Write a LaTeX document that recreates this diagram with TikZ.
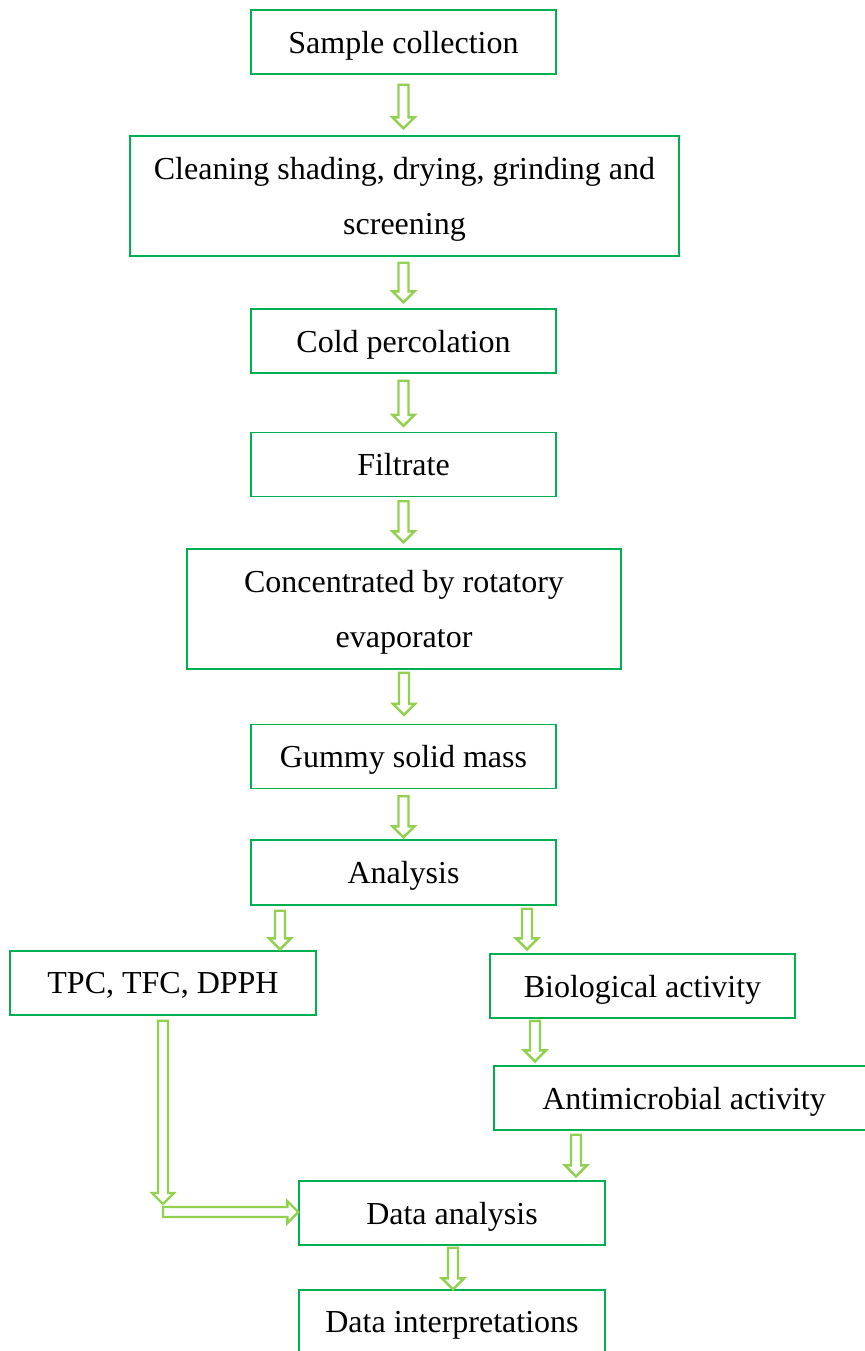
\documentclass[tikz,border=0pt]{standalone}
\usepackage{fontspec}
\setmainfont{Liberation Serif}
\usetikzlibrary{calc}
\definecolor{boxgreen}{HTML}{00B050}
\definecolor{arrowgreen}{HTML}{92D050}
\tikzset{
  stage/.style={draw=boxgreen, line width=0.7pt, inner sep=0pt, align=center, text depth=0pt,
    font=\fontsize{16}{27.5}\selectfont, minimum width=152.5pt, minimum height=32pt},
  hollow/.style={draw=arrowgreen, line width=1.2pt, line join=miter,
    to path={(\tikztostart) coordinate (ts) (\tikztotarget) coordinate (tt)
      ($(tt)!5.5pt!(ts)$) coordinate (hb)
      ($(ts)!2.5pt!90:(tt)$)
      -- ($(hb)!2.5pt!90:(tt)$)
      -- ($(hb)!5.5pt!90:(tt)$)
      -- (tt)
      -- ($(hb)!5.5pt!-90:(tt)$)
      -- ($(hb)!2.5pt!-90:(tt)$)
      -- ($(ts)!2.5pt!-90:(tt)$)
      -- cycle}}
}
\begin{document}
\begin{tikzpicture}[x=0.5pt, y=-0.5pt]
\useasboundingbox (0,0) rectangle (864,1351);

\node (sample) at (403.5,42) [stage] {Sample collection};
\node (clean) at (404.5,196) [stage, minimum width=274.5pt, minimum height=60pt] {Cleaning shading, drying, grinding and\\screening};
\node (perc) at (403.5,341) [stage] {Cold percolation};
\node (filt) at (403.5,464.5) [stage] {Filtrate};
\node (conc) at (404,609) [stage, minimum width=217pt, minimum height=60pt] {Concentrated by rotatory\\evaporator};
\node (gummy) at (403.5,756.5) [stage] {Gummy solid mass};
\node (anal) at (403.5,872.5) [stage, minimum height=32.5pt] {Analysis};
\node (tpc) at (163,983) [stage, minimum width=153pt] {TPC, TFC, DPPH};
\node (bio) at (642.5,986) [stage] {Biological activity};
\node (anti) at (684,1098) [stage, minimum width=190pt] {Antimicrobial activity};
\node (data) at (452,1213) [stage, minimum width=153pt] {Data analysis};
\node (interp) at (452,1322) [stage, minimum width=153pt] {Data interpretations};

\draw[hollow] ($(sample.south)+(0,10)$) to ($(clean.north -| sample.south)+(0,-7)$);
\draw[hollow] ($(clean.south -| sample.south)+(0,6)$) to ($(perc.north)+(0,-6)$);
\draw[hollow] ($(perc.south)+(0,7)$) to ($(filt.north)+(0,-6)$);
\draw[hollow] ($(filt.south)+(0,4)$) to ($(conc.north -| filt.south)+(0,-6)$);
\draw[hollow] ($(conc.south)+(0,3)$) to ($(gummy.north -| conc.south)+(0,-9)$);
\draw[hollow] ($(gummy.south)+(0,7)$) to ($(anal.north)+(0,-2)$);
\draw[hollow] ($(anal.south)+(-123.5,5)$) to ($(tpc.north)+(117,-1)$);
\draw[hollow] ($(anal.south)+(123.5,3)$) to ($(bio.north)+(-115.5,-4)$);
\draw[hollow] ($(bio.south)+(-107.5,2)$) to ($(anti.north)+(-149,-4)$);
\draw[hollow] ($(anti.south)+(-108,4)$) to ($(data.north)+(124,-4)$);
\draw[hollow] ($(tpc.south)+(0,5)$) to ($(tpc.south |- data.west)+(0,-9)$);
\draw[hollow] ($(tpc.south |- data.west)+(0,-1)$) to ($(data.west)+(0,-1)$);
\draw[hollow] ($(data.south)+(1,2)$) to ($(interp.north)+(1,0)$);
\end{tikzpicture}
\end{document}
